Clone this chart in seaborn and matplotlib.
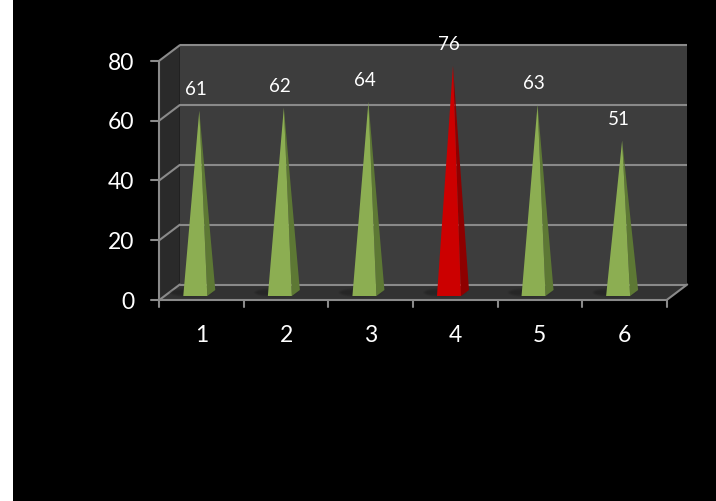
import numpy as np
import matplotlib
matplotlib.use("Agg")
import matplotlib.pyplot as plt
from matplotlib.patches import Polygon, Rectangle, Ellipse
import seaborn as sns

# ---- data ----
categories = ["1", "2", "3", "4", "5", "6"]
values = [61, 62, 64, 76, 63, 51]
highlight = [False, False, False, True, False, False]
y_ticks = [0, 20, 40, 60, 80]

sns.set_theme(style="dark", rc={"axes.facecolor": "black", "figure.facecolor": "white"})
plt.rcParams["font.family"] = ["Lato", "DejaVu Sans"]

W, H = 716, 501
fig = plt.figure(figsize=(W / 100, H / 100), dpi=100)

# black canvas with a thin white margin on the left
bg = Rectangle((13 / W, 0), 1.1, 1.1, transform=fig.transFigure,
               facecolor="black", edgecolor="none", zorder=-10)
fig.patches.append(bg)

# front plane of the 3D box in pixels
left_px, right_px, bottom_px, top_px = 159.3, 666.7, 300.0, 60.7
ax = fig.add_axes([left_px / W, (H - bottom_px) / H, (right_px - left_px) / W, (bottom_px - top_px) / H])
ax.set_xlim(0.5, 6.5)
ax.set_ylim(0, 80)
ax.set_facecolor("none")
ax.patch.set_alpha(0)
for s in ax.spines.values():
    s.set_visible(False)
ax.set_xticks([])
ax.set_yticks([])

pxx = (right_px - left_px) / 6.0      # pixels per x unit
pxy = (bottom_px - top_px) / 80.0     # pixels per y unit
dx = 20.5 / pxx
dy = 15.5 / pxy
x0, x1 = 0.5, 6.5

wall_back = "#3d3d3d"
wall_left = "#2a2a2a"
floor_c = "#323232"
grid_c = "#8a8a8a"

def poly(pts, **kw):
    p = Polygon(pts, closed=True, clip_on=False, **kw)
    ax.add_patch(p)
    return p

# walls and floor
poly([(x0 + dx, dy), (x1 + dx, dy), (x1 + dx, 80 + dy), (x0 + dx, 80 + dy)], facecolor=wall_back, edgecolor="none", zorder=1)
poly([(x0, 0), (x0 + dx, dy), (x0 + dx, 80 + dy), (x0, 80)], facecolor=wall_left, edgecolor="none", zorder=1)
poly([(x0, 0), (x1, 0), (x1 + dx, dy), (x0 + dx, dy)], facecolor=floor_c, edgecolor="none", zorder=1)

lw = 1.5
for g in y_ticks:
    ax.plot([x0 + dx, x1 + dx], [g + dy, g + dy], color=grid_c, lw=lw, clip_on=False, zorder=2, solid_capstyle="butt")
    ax.plot([x0, x0 + dx], [g, g + dy], color=grid_c, lw=lw, clip_on=False, zorder=2)
    ax.plot([x0 - 8 / pxx, x0], [g, g], color=grid_c, lw=lw, clip_on=False, zorder=2)
    ax.text(x0 - 25 / pxx, g - 0.8, str(g), color="white", fontsize=16.5, ha="right", va="center", zorder=5)

# front axis lines
ax.plot([x0, x0], [0, 80], color=grid_c, lw=lw, clip_on=False, zorder=3)
ax.plot([x0, x1], [0, 0], color=grid_c, lw=lw, clip_on=False, zorder=3)
ax.plot([x1, x1 + dx], [0, dy], color=grid_c, lw=lw, clip_on=False, zorder=3)
for b in np.arange(0.5, 7.0, 1.0):
    ax.plot([b, b], [0, -7 / pxy], color=grid_c, lw=lw, clip_on=False, zorder=3)

# pyramids
for i, (cat, v, hl) in enumerate(zip(categories, values, highlight)):
    cx = i + 1
    ax_ = cx - 2.3 / pxx
    apex = (ax_, v + 2.3)
    base_y = 4 / pxy
    side_y = 10 / pxy
    fl = (ax_ - 16 / pxx, base_y)
    fr = (ax_ + 8 / pxx, base_y)
    br = (ax_ + 16 / pxx, side_y)
    front_c, side_c = ("#cc0000", "#8e0000") if hl else ("#8cae52", "#5d7834")
    # soft floor shadow
    for k, a in enumerate([0.10, 0.12, 0.14, 0.16]):
        e = Ellipse((ax_ - (8 + 3 * k) / pxx, 7.5 / pxy), (44 - 8 * k) / pxx, (10 - 2 * k) / pxy,
                    facecolor="#1c1c1c", edgecolor="none", alpha=a, clip_on=False, zorder=3)
        ax.add_patch(e)
    poly([apex, fr, br], facecolor=side_c, edgecolor="none", zorder=4)
    poly([apex, fl, fr], facecolor=front_c, edgecolor="none", zorder=4)
    ax.text(cx - 6 / pxx, v + 9.3, str(v), color="white", fontsize=13.5, ha="center", va="center", zorder=6)
    ax.text(cx, -35 / pxy, cat, color="white", fontsize=16.5, ha="center", va="center", zorder=6)

fig.savefig("out.png", dpi=100, facecolor="white")
